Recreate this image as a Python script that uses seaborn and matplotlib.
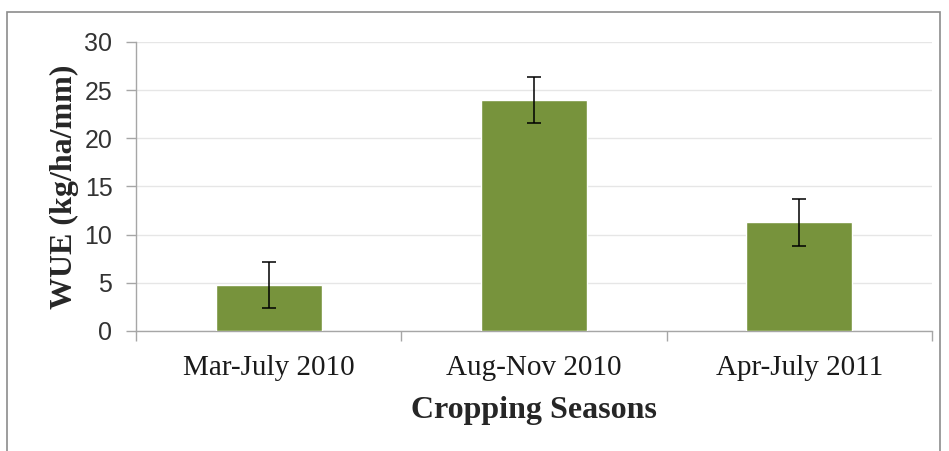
"""WUE by cropping season: bar chart with error bars"""

import matplotlib
matplotlib.use("Agg")
import matplotlib.pyplot as plt
import seaborn as sns
import pandas as pd
from matplotlib.patches import Rectangle

seasons = ["Mar-July 2010", "Aug-Nov 2010", "Apr-July 2011"]
wue = [4.8, 24.0, 11.3]
wue_err = [2.4, 2.4, 2.45]

df = pd.DataFrame({"season": seasons, "wue": wue})

sns.set_theme(style="white")
plt.rcParams["font.family"] = ["Liberation Serif", "DejaVu Serif"]

fig = plt.figure(figsize=(9.49, 4.51), dpi=100)
ax = fig.add_axes([0.1433, 0.2661, 0.982 - 0.1433, 0.9069 - 0.2661])

# outer chart border (Excel style)
fig.patches.append(Rectangle((7 / 949, -0.05), (940 - 7) / 949, 1 - 12 / 451 + 0.05,
                             transform=fig.transFigure, fill=False,
                             edgecolor="#8c8c8c", linewidth=1.2))

sns.barplot(data=df, x="season", y="wue", color="#77933C", saturation=1,
            width=0.4, errorbar=None, ax=ax, zorder=3)
ax.errorbar(range(len(seasons)), wue, yerr=wue_err, fmt="none",
            ecolor="black", elinewidth=1.1, capsize=5, capthick=1.1, zorder=4)

ax.set_xlim(-0.5, 2.5)
ax.set_ylim(0, 30)
ax.set_yticks(range(0, 31, 5))
ax.yaxis.grid(True, color="#e6e6e6", linewidth=1)
ax.set_axisbelow(True)

for s in ["top", "right"]:
    ax.spines[s].set_visible(False)
for s in ["left", "bottom"]:
    ax.spines[s].set_color("#a6a6a6")
    ax.spines[s].set_linewidth(1)

ax.tick_params(axis="y", which="major", left=True, length=7, width=1,
               color="#a6a6a6", labelsize=18, pad=10)
for lab in ax.get_yticklabels():
    lab.set_fontfamily(["Liberation Sans", "DejaVu Sans"])
    lab.set_color("#333333")

ax.set_xticks([-0.5, 0.5, 1.5, 2.5], minor=True)
ax.tick_params(axis="x", which="minor", bottom=True, length=7, width=1,
               color="#a6a6a6")
ax.tick_params(axis="x", which="major", bottom=False, labelsize=21, pad=11,
               labelcolor="#1a1a1a")

ax.set_xlabel("Cropping Seasons", fontsize=23, fontweight="bold", labelpad=11)
ax.set_ylabel("WUE (kg/ha/mm)", fontsize=23, fontweight="bold", labelpad=4)

fig.savefig("out.png", dpi=100)
